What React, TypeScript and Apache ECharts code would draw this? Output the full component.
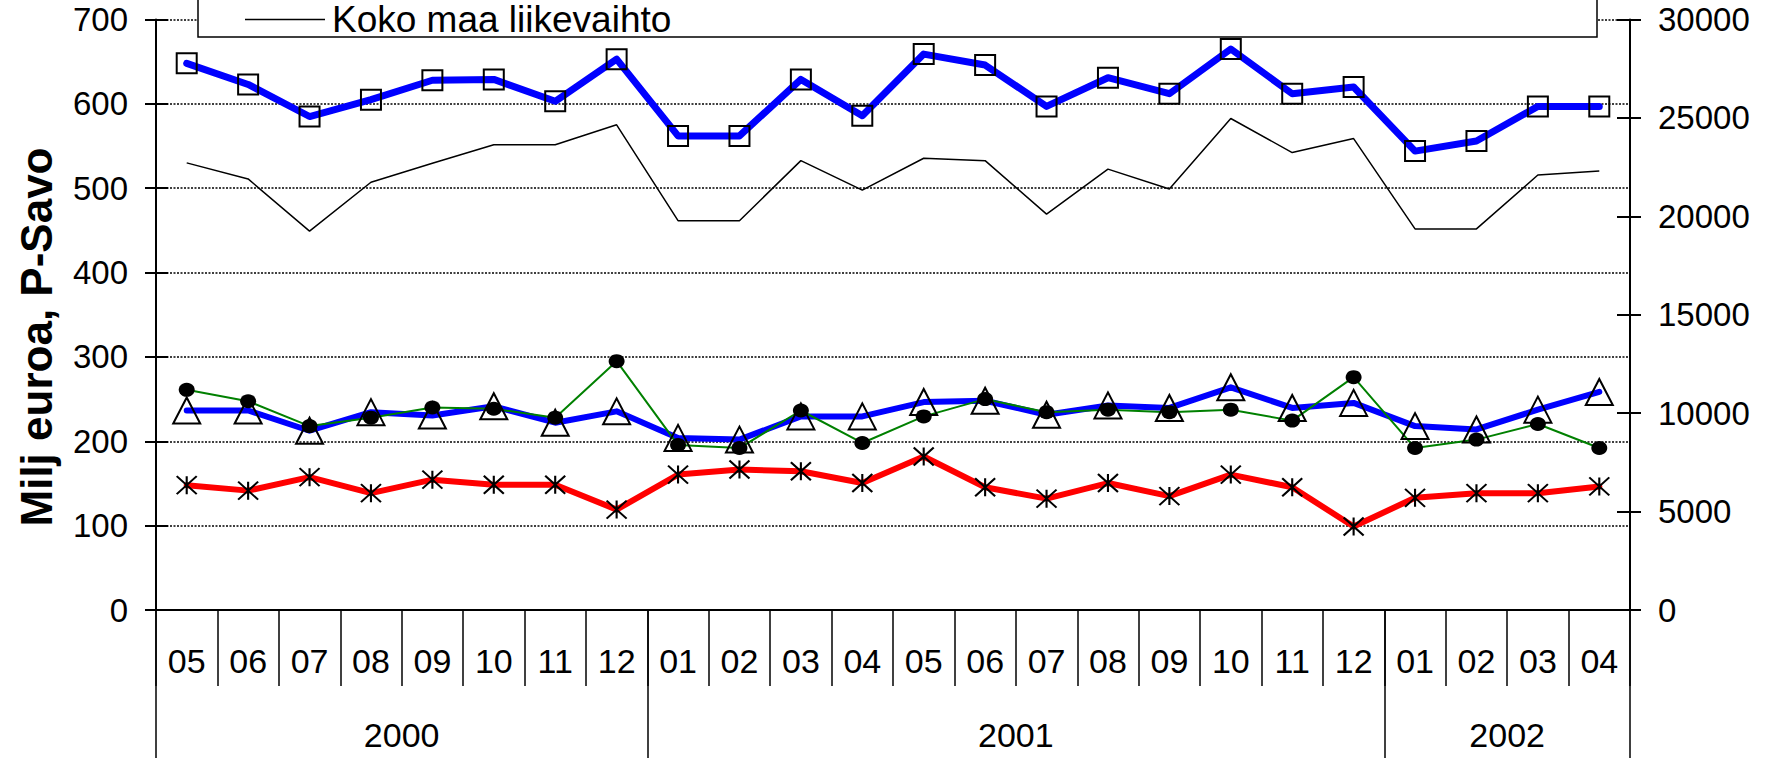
import React, { useEffect, useRef } from "react";
import * as echarts from "echarts";

const months = ["05","06","07","08","09","10","11","12","01","02","03","04","05","06","07","08","09","10","11","12","01","02","03","04"];
const years = ["2000", "2001", "2002"];
const monthsInYear = [8, 12, 4];

const leftTicks = { min: 0, max: 700, interval: 100 };
const rightTicks = { min: 0, max: 30000, interval: 5000 };

// Koko maa liikevaihto (right axis)
const kokoMaa = [22715, 21900, 19250, 21730, 22700, 23640, 23640, 24650, 19780, 19780, 22830, 21330, 22950, 22830, 20110, 22400, 21390, 24970, 23240, 23950, 19360, 19360, 22100, 22300];
// Blue thick line with squares (left axis)
const sarjaNelio = [648, 623, 585, 605, 628, 629, 603, 653, 562, 562, 629, 586, 659, 646, 597, 631, 612, 665, 612, 620, 544, 556, 597, 597];
// Blue line with triangles
const sarjaKolmio = [236.5, 236.5, 212.5, 234.5, 230.5, 241.5, 222, 235.5, 204, 202, 229.5, 229.5, 246.5, 248, 231.5, 242.5, 239.5, 264, 239.5, 245.5, 218, 214, 237.5, 258.5];
// Green line with black dots
const sarjaPiste = [261, 247.5, 218, 228, 240, 238.5, 228, 295, 195.5, 192, 236.5, 198, 229.5, 250, 234.5, 237.5, 234.5, 237.5, 224.5, 276, 192, 202, 220.5, 192];
// Red line with stars
const sarjaTahti = [148, 141.5, 157.5, 138.5, 154.5, 148.5, 148.5, 119, 160.5, 166.5, 164.5, 150.5, 182, 145.5, 132, 150.5, 135, 160.5, 145.5, 99, 133, 138.5, 138.5, 146.5];

const FONT = "'Liberation Sans', Arial, sans-serif";

export default function App() {
  const ref = useRef<HTMLDivElement>(null);
  useEffect(() => {
    if (!ref.current) return;
    const chart = echarts.init(ref.current, null, { renderer: "svg" });

    // year axis: boundaries every half month
    const n = months.length * 2 + 1;
    const yearLabelAt: Record<number, string> = {};
    const dividers = new Set<number>();
    let start = 0;
    years.forEach((y, k) => {
      dividers.add(start * 2);
      yearLabelAt[start * 2 + monthsInYear[k]] = y;
      start += monthsInYear[k];
    });
    dividers.add(start * 2);
    const yearAxisData = Array.from({ length: n }, (_, i) => yearLabelAt[i] || "");

    const gridLine = { color: "#000", width: 1.5, type: [2, 1.5] as any };

    chart.setOption({
      animation: false,
      backgroundColor: "#fff",
      textStyle: { fontFamily: FONT },
      grid: { left: 156, right: 149, top: 19.5, bottom: 148, containLabel: false },
      legend: {
        data: ["Koko maa liikevaihto"],
        left: 245,
        top: 1,
        padding: 0,
        icon: "rect",
        itemWidth: 80,
        itemHeight: 1.5,
        itemStyle: { color: "#000", borderWidth: 0 },
        selectedMode: false,
        z: 20,
        textStyle: { fontSize: 37, color: "#000", fontFamily: FONT, lineHeight: 34, padding: [0, 0, 0, 2] },
      },
      graphic: [
        {
          type: "rect",
          z: 15,
          shape: { x: 198, y: -10, width: 1399, height: 47 },
          style: { fill: "#fff", stroke: "#000", lineWidth: 1.5 },
        },
        {
          type: "text",
          z: 15,
          x: 36,
          y: 337,
          rotation: Math.PI / 2,
          style: {
            text: "Milj euroa, P-Savo",
            font: `bold 44px ${FONT}`,
            fill: "#000",
            align: "center",
            verticalAlign: "middle",
          },
        },
      ],
      xAxis: [
        {
          type: "category",
          data: months,
          position: "bottom",
          boundaryGap: true,
          axisLine: { lineStyle: { color: "#000", width: 2 } },
          axisTick: { show: true, interval: 0, length: 76, lineStyle: { color: "#000", width: 1.5 } },
          axisLabel: { interval: 0, fontSize: 34, color: "#000", margin: 34, fontFamily: FONT },
          splitLine: { show: false },
        },
        {
          type: "category",
          data: yearAxisData,
          position: "bottom",
          boundaryGap: false,
          axisLine: { show: false },
          axisTick: {
            show: true,
            length: 200,
            interval: (i: number) => dividers.has(i),
            lineStyle: { color: "#000", width: 1.5 },
          },
          axisLabel: {
            interval: (_i: number, v: string) => v !== "",
            fontSize: 34,
            color: "#000",
            margin: 108,
            fontFamily: FONT,
          },
          splitLine: { show: false },
        },
      ],
      yAxis: [
        {
          type: "value",
          position: "left",
          ...leftTicks,
          axisLine: { show: true, lineStyle: { color: "#000", width: 2 } },
          axisTick: { show: true, inside: false, length: 11, lineStyle: { color: "#000", width: 2 } },
          axisLabel: { fontSize: 33, color: "#000", margin: 28, fontFamily: FONT },
          splitLine: { show: true, lineStyle: gridLine },
        },
        {
          type: "value",
          position: "right",
          ...rightTicks,
          axisLine: { show: true, lineStyle: { color: "#000", width: 2 } },
          axisTick: { show: true, inside: false, length: 11, lineStyle: { color: "#000", width: 2 } },
          axisLabel: {
            fontSize: 33,
            color: "#000",
            margin: 28,
            fontFamily: FONT,
            formatter: (v: number) => String(v),
          },
          splitLine: { show: false },
        },
        {
          type: "value",
          position: "left",
          ...leftTicks,
          axisLine: { show: false },
          axisTick: { show: true, inside: true, length: 12, lineStyle: { color: "#000", width: 2 } },
          axisLabel: { show: false },
          splitLine: { show: false },
        },
        {
          type: "value",
          position: "right",
          ...rightTicks,
          axisLine: { show: false },
          axisTick: { show: true, inside: true, length: 13, lineStyle: { color: "#000", width: 2 } },
          axisLabel: { show: false },
          splitLine: { show: false },
        },
      ],
      series: [
        {
          name: "Koko maa liikevaihto",
          type: "line",
          yAxisIndex: 1,
          data: kokoMaa,
          symbol: "none",
          lineStyle: { color: "#000", width: 1.5 },
          itemStyle: { color: "#000" },
        },
        {
          name: "Kolmio",
          type: "line",
          yAxisIndex: 0,
          data: sarjaKolmio,
          symbol: "triangle",
          symbolSize: [27, 26],
          lineStyle: { color: "#0000ff", width: 6, cap: "round", join: "round" },
          itemStyle: { color: "rgba(0,0,0,0)", borderColor: "#000", borderWidth: 2 },
        },
        {
          name: "Tähti",
          type: "line",
          yAxisIndex: 0,
          data: sarjaTahti,
          symbol: "path://M0,0L20,18M20,0L0,18M10,0L10,18",
          symbolSize: [20, 18],
          lineStyle: { color: "#ff0000", width: 6, cap: "round", join: "round" },
          itemStyle: { color: "rgba(0,0,0,0)", borderColor: "#000", borderWidth: 2 },
        },
        {
          name: "Piste",
          type: "line",
          yAxisIndex: 0,
          data: sarjaPiste,
          symbol: "circle",
          symbolSize: [16, 14],
          lineStyle: { color: "#008000", width: 2 },
          itemStyle: { color: "#000", borderWidth: 0 },
        },
        {
          name: "Neliö",
          type: "line",
          yAxisIndex: 0,
          data: sarjaNelio,
          symbol: "rect",
          symbolSize: 20,
          lineStyle: { color: "#0000ff", width: 7, cap: "round", join: "round" },
          itemStyle: { color: "rgba(0,0,0,0)", borderColor: "#000", borderWidth: 2 },
        },
      ],
    });
    return () => chart.dispose();
  }, []);
  return (
    <div
      ref={ref}
      style={{ position: "fixed", left: 0, top: 0, width: 1779, height: 758, background: "#fff" }}
    />
  );
}
